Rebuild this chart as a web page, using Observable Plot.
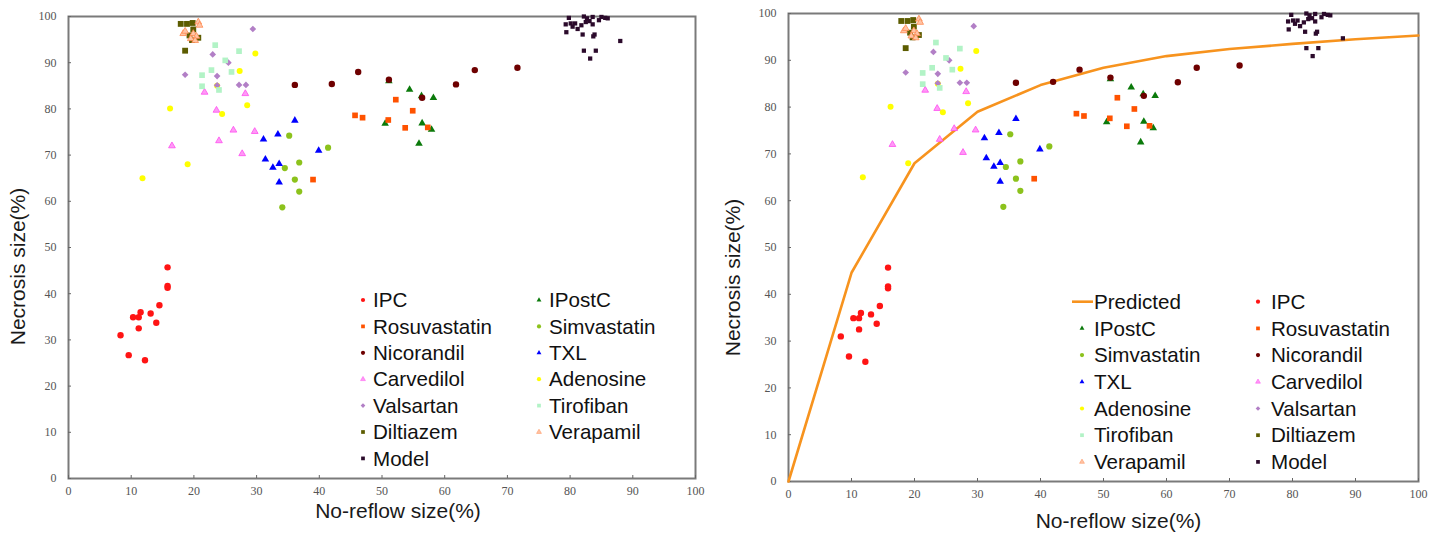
<!DOCTYPE html>
<html><head><meta charset="utf-8">
<script src="https://cdn.jsdelivr.net/npm/d3@7"></script>
<script src="https://cdn.jsdelivr.net/npm/@observablehq/plot@0.6"></script>
<style>
html,body{margin:0;padding:0;background:#fff;}
#wrap{position:relative;width:1440px;height:540px;overflow:hidden;background:#fff;}
#left,#right{position:absolute;top:0;}
#left{left:0}
#right{left:720px}
#legend{position:absolute;left:0;top:0;pointer-events:none;}
</style></head><body>
<div id="wrap"><div id="left"></div><div id="right"></div><svg id="legend" width="1440" height="540"></svg></div>
<script>
// ---- data (x = No-reflow size %, y = Necrosis size %) ----
const xTicks = [0,10,20,30,40,50,60,70,80,90,100];
const yTicks = [0,10,20,30,40,50,60,70,80,90,100];
const xTitle = "No-reflow size(%)";
const yTitle = "Necrosis size(%)";

const IPC = [[8.3,31.0],[9.6,26.7],[10.3,34.9],[11.2,34.9],[11.5,36.0],[11.2,32.5],[12.2,25.6],[13.1,35.7],[14.0,33.7],[14.5,37.5],[15.8,41.3],[15.8,41.7],[15.8,45.7]];
const IPostC = [[51.1,86.0],[54.4,84.2],[56.3,82.8],[58.2,82.4],[50.5,76.8],[56.4,76.9],[57.9,75.5],[55.9,72.5]];
const Rosuvastatin = [[39.0,64.7],[45.7,78.6],[46.9,78.1],[51.0,77.6],[52.2,82.0],[53.7,75.9],[54.9,79.6],[57.3,76.0]];
const Simvastatin = [[35.2,74.2],[41.4,71.6],[36.8,68.4],[34.5,67.2],[36.1,64.7],[36.8,62.1],[34.1,58.7]];
const Nicorandil = [[36.1,85.2],[42.0,85.4],[46.2,88.0],[51.1,86.3],[56.4,82.4],[61.8,85.3],[64.8,88.4],[71.6,88.9]];
const TXL = [[36.1,77.5],[33.4,74.5],[31.1,73.4],[39.9,71.0],[31.4,69.1],[32.6,67.3],[33.6,68.1],[33.6,64.1]];
const Carvedilol = [[16.5,72.0],[21.7,83.6],[23.6,79.7],[24.0,73.1],[26.3,75.4],[28.2,83.3],[27.7,70.3],[29.7,75.1]];
const Adenosine = [[11.8,65.0],[16.2,80.1],[19.0,68.0],[23.7,85.0],[24.5,78.9],[27.3,88.2],[28.5,80.8],[29.8,92.0]];
const Valsartan = [[18.6,87.4],[23.0,91.8],[23.7,87.1],[23.7,85.1],[25.5,90.0],[27.2,85.2],[28.3,85.2],[29.4,97.3]];
const Tirofiban = [[21.3,87.3],[21.3,84.9],[22.8,88.4],[23.4,93.8],[24.0,84.1],[25.0,90.5],[26.0,88.0],[27.2,92.5]];
const Diltiazem = [[17.9,98.4],[18.9,98.4],[19.8,98.6],[19.9,97.2],[19.3,95.9],[20.7,95.4],[19.7,94.9],[18.6,92.6]];
const Verapamil = [[18.3,96.3],[18.6,96.8],[19.9,96.3],[20.4,95.7],[19.5,95.2],[20.2,94.8],[20.7,98.8],[20.9,98.1]];
const Model = [[79.3,98.3],[79.4,96.6],[79.8,99.7],[80.1,98.5],[80.4,97.8],[80.8,98.5],[81.2,97.3],[81.8,98.1],[82.0,96.1],[82.2,100],[82.5,98.8],[82.7,99.6],[83.1,99.0],[83.6,98.3],[83.6,99.9],[84.6,99.2],[85.0,99.9],[85.6,99.7],[86.0,99.6],[83.9,96.1],[83.7,95.7],[88.0,94.7],[82.2,92.6],[84.1,92.6],[83.2,90.9]];

const predX = [0,10,20,30,40,50,60,70,80,90,100];
const predY = [0,44.6,68.0,79.0,84.7,88.4,90.9,92.4,93.5,94.5,95.3];

const seriesNames = ["IPC","IPostC","Rosuvastatin","Simvastatin","Nicorandil","TXL","Carvedilol","Adenosine","Valsartan","Tirofiban","Diltiazem","Verapamil","Model"];
const seriesData = [IPC,IPostC,Rosuvastatin,Simvastatin,Nicorandil,TXL,Carvedilol,Adenosine,Valsartan,Tirofiban,Diltiazem,Verapamil,Model];
const seriesColors = ["#ff1414","#0b7a0b","#ff5200","#8cc21c","#6e0000","#0000ff","#ff4cf0","#ffff00","#b27fc6","#b2f3c6","#5c5c00","#ff8a50","#2b0a2b"];
const seriesFill2 = [null,null,null,null,null,null,"#ff99f6",null,null,null,null,"#ffc4a6",null];
const seriesSymbols = ["circle","triangle","square","circle","circle","triangle","triangle","circle","diamond2","square","square","triangle","square"];
const seriesR = [3.2,2.8,3.2,3.1,3.2,2.8,2.5,3.0,3.0,3.2,3.3,2.5,2.4];

const predColor = "#f7931e";

function panel(el, opts) {
  const marks = [
    Plot.frame({stroke: "#7a7a7a", strokeWidth: 2}),
    Plot.axisX(xTicks, {tickSize: -3, fill: "none", stroke: "#666", label: null}),
    Plot.axisY(yTicks, {tickSize: -3, fill: "none", stroke: "#666", label: null}),
    Plot.axisX(xTicks, {tickSize: 0, tickPadding: 8, fontFamily: "Liberation Serif", fontSize: 12, fill: "#555", label: null}),
    Plot.axisY(yTicks, {tickSize: 0, tickPadding: 12, fontFamily: "Liberation Serif", fontSize: 12, fill: "#555", label: null}),
    Plot.text([yTitle], {text: d => d, frameAnchor: "left", rotate: -90, dx: opts.ytdx, dy: opts.ytdy, fontSize: 21, fontFamily: "Liberation Sans", fill: "#1a1a1a", textAnchor: "middle"}),
    Plot.text([xTitle], {text: d => d, frameAnchor: "bottom", dx: opts.xtdx, dy: opts.xtdy, fontSize: 21, fontFamily: "Liberation Sans", fill: "#1a1a1a", textAnchor: "middle"})
  ];
  if (opts.predicted) {
    marks.push(Plot.line(predX.map((x, i) => ({x, y: predY[i]})), {x: "x", y: "y", stroke: predColor, strokeWidth: 2.6}));
  }
  seriesData.forEach((data, i) => {
    marks.push(Plot.dot(data, {
      x: d => d[0], y: d => d[1],
      symbol: seriesSymbols[i], r: seriesR[i],
      fill: seriesFill2[i] || seriesColors[i],
      stroke: seriesFill2[i] ? seriesColors[i] : "none",
      strokeWidth: 0.8
    }));
  });
  const chart = Plot.plot({
    width: 720, height: 540,
    marginLeft: opts.mL, marginRight: opts.mR, marginTop: opts.mT, marginBottom: opts.mB,
    x: {domain: [0, 100]},
    y: {domain: [0, 100]},
    style: {background: "transparent", overflow: "visible"},
    marks
  });
  el.appendChild(chart);
}

panel(document.getElementById("left"), {mL: 68, mR: 25, mT: 16, mB: 62, ytdx: -50, ytdy: 19, xtdx: 16, xtdy: 39, predicted: false});
panel(document.getElementById("right"), {mL: 68, mR: 22, mT: 13, mB: 59, ytdx: -55, ytdy: 30, xtdx: 15, xtdy: 46, predicted: true});

// ---- legends ----
const symMap = {circle: d3.symbolCircle, triangle: d3.symbolTriangle, square: d3.symbolSquare, diamond2: d3.symbolDiamond2};
const lg = d3.select("#legend");
function legend(items, cfg) {
  items.forEach((it, k) => {
    const col = k % 2, row = Math.floor(k / 2);
    const cy = cfg.y0 + row * cfg.dy;
    const mx = cfg.mx[col], tx = cfg.tx[col];
    if (it.line) {
      lg.append("line").attr("x1", cfg.lx[0]).attr("x2", cfg.lx[1]).attr("y1", cy).attr("y2", cy)
        .attr("stroke", predColor).attr("stroke-width", 2.6);
    } else {
      const i = it.i;
      const r = seriesSymbols[i] === "triangle" ? 1.8 : 2.1;
      lg.append("path").attr("transform", `translate(${mx},${cy})`)
        .attr("d", d3.symbol(symMap[seriesSymbols[i]], Math.PI * r * r)())
        .attr("fill", seriesFill2[i] || seriesColors[i])
        .attr("stroke", seriesFill2[i] ? seriesColors[i] : "none")
        .attr("stroke-width", 0.5);
    }
    lg.append("text").attr("x", tx).attr("y", cy + 7.2).text(it.name)
      .attr("font-family", "Liberation Sans").attr("font-size", 20.6).attr("fill", "#111");
  });
}
legend(seriesNames.map((name, i) => ({name, i})), {y0: 300, dy: 26.4, mx: [363, 539], tx: [373, 549]});
legend([{name: "Predicted", line: true}].concat(seriesNames.map((name, i) => ({name, i}))),
  {y0: 301.7, dy: 26.7, mx: [1082, 1258], tx: [1094, 1271], lx: [1072, 1093]});
</script>
</body></html>
